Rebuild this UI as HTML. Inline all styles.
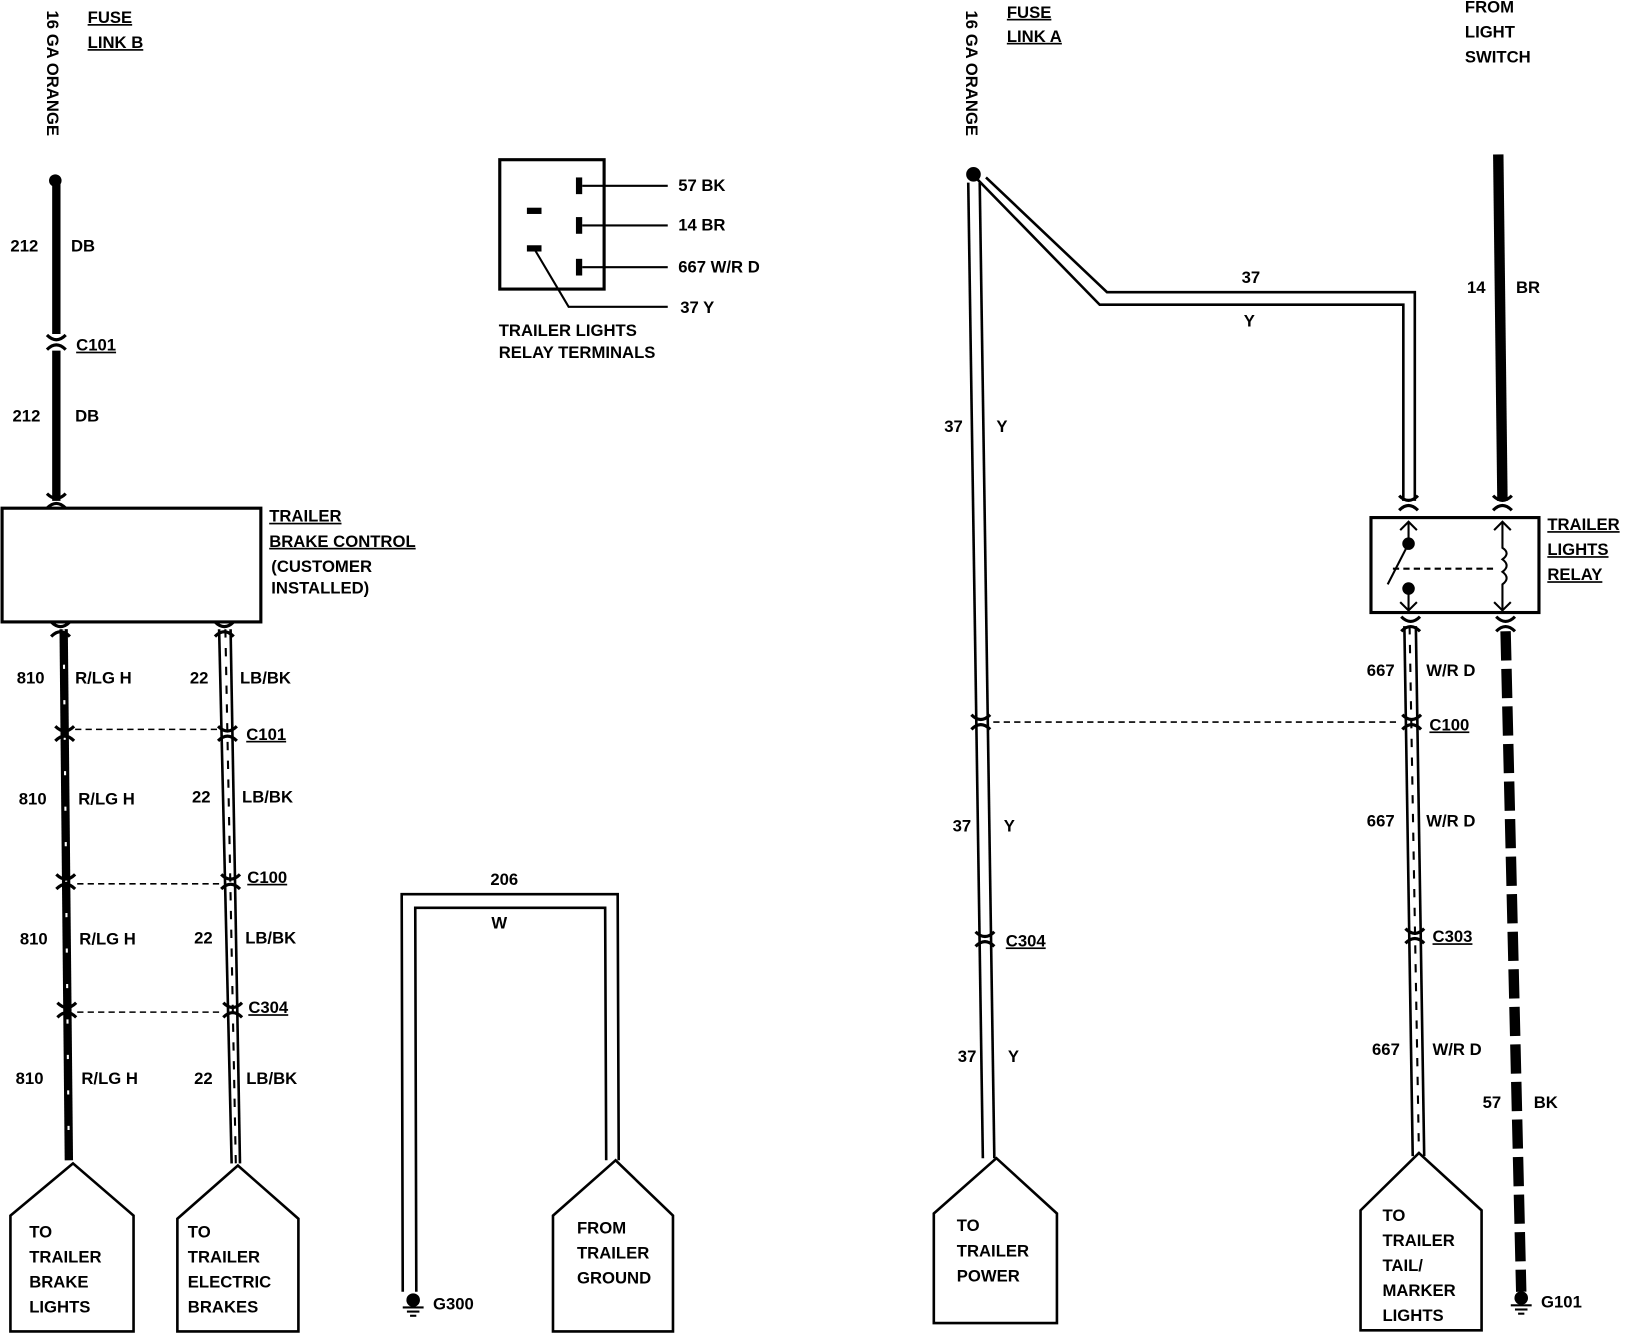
<!DOCTYPE html>
<html><head><meta charset="utf-8"><style>
html,body{margin:0;padding:0;background:#fff}
svg{display:block}
text{font-family:"Liberation Sans",sans-serif;font-weight:bold;font-size:16px;fill:#000}
</style></head><body>
<svg width="1636" height="1344" viewBox="0 0 1568 1288" xmlns="http://www.w3.org/2000/svg">
<defs>
<g id="conn"><path d="M-9,-7 Q0,2 9,-7" fill="none" stroke="#000" stroke-width="3"/><path d="M-9,7 Q0,-2 9,7" fill="none" stroke="#000" stroke-width="3"/></g>
<g id="gnd"><circle cx="0" cy="0" r="6" fill="#000"/><line x1="-10" y1="7" x2="10" y2="7" stroke="#000" stroke-width="2"/><line x1="-6" y1="11" x2="6" y2="11" stroke="#000" stroke-width="2"/><line x1="-3" y1="15" x2="3" y2="15" stroke="#000" stroke-width="2"/></g>
</defs>
<g stroke="#000" fill="none">
<!-- left fuse B wire -->
<circle cx="53" cy="173" r="6" fill="#000" stroke="none"/>
<line x1="54" y1="173" x2="54" y2="320" stroke-width="8"/>
<line x1="54" y1="336" x2="54" y2="480" stroke-width="8"/>
<use href="#conn" x="54" y="328"/>
<use href="#conn" x="54" y="480"/>
<rect x="2" y="487" width="248" height="109" stroke-width="3"/>
<!-- 810 wire -->
<line x1="61" y1="603" x2="66" y2="1112" stroke-width="8"/>
<line x1="61" y1="603" x2="66" y2="1112" stroke="#fff" stroke-width="2" stroke-dasharray="4 30"/>
<!-- 22 wire -->
<line x1="210" y1="603" x2="222" y2="1115" stroke-width="2.5"/>
<line x1="221" y1="603" x2="230" y2="1115" stroke-width="2.5"/>
<line x1="216" y1="603" x2="226" y2="1115" stroke-width="2" stroke-dasharray="8 10"/>
<use href="#conn" x="58" y="603"/><use href="#conn" x="215" y="603"/>
<use href="#conn" x="62" y="703"/><use href="#conn" x="218" y="703"/>
<use href="#conn" x="63" y="845"/><use href="#conn" x="221" y="845"/>
<use href="#conn" x="64" y="968"/><use href="#conn" x="223" y="968"/>
<g stroke-width="1.5" stroke-dasharray="6 4"><line x1="72" y1="699" x2="208" y2="699"/><line x1="74" y1="847" x2="210" y2="847"/><line x1="74" y1="970" x2="212" y2="970"/></g>
<path d="M70,1115 L10,1165 L10,1276 L128,1276 L128,1165 Z" stroke-width="2.5" fill="#fff"/>
<path d="M228,1117 L170,1168 L170,1276 L286,1276 L286,1168 Z" stroke-width="2.5" fill="#fff"/>
<!-- 206 loop -->
<path d="M386,1238 L385,857 L592,857 L593,1112" stroke-width="2.5"/>
<path d="M399,1238 L398,870 L580,870 L581,1112" stroke-width="2.5"/>
<use href="#gnd" x="396" y="1246"/>
<path d="M590,1112 L530,1165 L530,1276 L645,1276 L645,1165 Z" stroke-width="2.5" fill="#fff"/>
<!-- relay terminals box -->
<rect x="479" y="153" width="100" height="124" stroke-width="3"/>
<rect x="505" y="199" width="14" height="6" fill="#000" stroke="none"/>
<rect x="505" y="235" width="14" height="6" fill="#000" stroke="none"/>
<rect x="552" y="170" width="6" height="16" fill="#000" stroke="none"/>
<rect x="552" y="208" width="6" height="16" fill="#000" stroke="none"/>
<rect x="552" y="248" width="6" height="16" fill="#000" stroke="none"/>
<g stroke-width="2"><line x1="558" y1="178" x2="640" y2="178"/><line x1="558" y1="216" x2="640" y2="216"/><line x1="558" y1="256" x2="640" y2="256"/><path d="M513,240 L545,294 L640,294"/></g>
<!-- right 37 wires -->
<circle cx="933" cy="167" r="7" fill="#000" stroke="none"/>
<line x1="928" y1="175" x2="942" y2="1110" stroke-width="2.5"/>
<line x1="939" y1="175" x2="953" y2="1110" stroke-width="2.5"/>
<path d="M935,170 L1054,292 L1345,292 L1345,480" stroke-width="2.5"/>
<path d="M945,170 L1061,280 L1356,280 L1356,480" stroke-width="2.5"/>
<use href="#conn" x="1350" y="482"/><use href="#conn" x="1440" y="482"/>
<use href="#conn" x="940" y="692"/><use href="#conn" x="944" y="900"/>
<line x1="952" y1="692" x2="1342" y2="692" stroke-width="1.5" stroke-dasharray="6 4"/>
<path d="M955,1110 L895,1163 L895,1268 L1013,1268 L1013,1163 Z" stroke-width="2.5" fill="#fff"/>
<!-- 14 BR -->
<line x1="1436" y1="148" x2="1440" y2="480" stroke-width="10"/>
<!-- relay -->
<rect x="1314" y="496" width="161" height="91" stroke-width="3"/>
<g stroke-width="2">
<path d="M1350,500 L1350,520 M1342,508 L1350,500 L1358,508"/>
<circle cx="1350" cy="521" r="5" fill="#000"/>
<line x1="1350" y1="521" x2="1330" y2="560"/>
<line x1="1335" y1="545" x2="1432" y2="545" stroke-dasharray="6 4"/>
<circle cx="1350" cy="564" r="5" fill="#000"/>
<path d="M1350,564 L1350,585 M1342,577 L1350,585 L1358,577"/>
<path d="M1440,500 L1440,525 Q1448,530 1440,536 Q1448,542 1440,548 Q1448,554 1440,560 L1440,585 M1432,508 L1440,500 L1448,508 M1432,577 L1440,585 L1448,577"/>
</g>
<!-- 667 -->
<use href="#conn" x="1352" y="598"/><use href="#conn" x="1443" y="598"/>
<line x1="1346" y1="600" x2="1354" y2="1108" stroke-width="2.5"/>
<line x1="1357" y1="600" x2="1365" y2="1108" stroke-width="2.5"/>
<line x1="1351" y1="600" x2="1360" y2="1108" stroke-width="2" stroke-dasharray="8 10"/>
<use href="#conn" x="1353" y="692"/><use href="#conn" x="1356" y="897"/>
<path d="M1360,1105 L1304,1160 L1304,1275 L1420,1275 L1420,1160 Z" stroke-width="2.5" fill="#fff"/>
<!-- 57 BK -->
<line x1="1443" y1="605" x2="1458" y2="1238" stroke-width="10" stroke-dasharray="28 8"/>
<use href="#gnd" x="1458" y="1244"/>
</g>
<!-- texts -->
<text transform="translate(45,10) rotate(90)" font-size="15">16 GA ORANGE</text>
<text transform="translate(926,10) rotate(90)" font-size="15">16 GA ORANGE</text>
<g text-decoration="underline">
<text x="84" y="22">FUSE</text><text x="84" y="46">LINK B</text>
<text x="965" y="17">FUSE</text><text x="965" y="40">LINK A</text>
<text x="73" y="336">C101</text>
<text x="258" y="500">TRAILER</text><text x="258" y="524">BRAKE CONTROL</text>
<text x="236" y="709">C101</text><text x="237" y="846">C100</text><text x="238" y="971">C304</text>
<text x="964" y="907">C304</text><text x="1370" y="700">C100</text><text x="1373" y="903">C303</text>
<text x="1483" y="508">TRAILER</text><text x="1483" y="532">LIGHTS</text><text x="1483" y="556">RELAY</text>
</g>
<text x="10" y="241">212</text><text x="68" y="241">DB</text>
<text x="12" y="404">212</text><text x="72" y="404">DB</text>
<text x="260" y="548" font-size="14">(CUSTOMER</text><text x="260" y="569" font-size="14">INSTALLED)</text>
<text x="16" y="655">810</text><text x="72" y="655">R/LG H</text><text x="182" y="655">22</text><text x="230" y="655">LB/BK</text>
<text x="18" y="771">810</text><text x="75" y="771">R/LG H</text><text x="184" y="769">22</text><text x="232" y="769">LB/BK</text>
<text x="19" y="905">810</text><text x="76" y="905">R/LG H</text><text x="186" y="904">22</text><text x="235" y="904">LB/BK</text>
<text x="15" y="1039">810</text><text x="78" y="1039">R/LG H</text><text x="186" y="1039">22</text><text x="236" y="1039">LB/BK</text>
<text x="28" y="1186">TO</text><text x="28" y="1210">TRAILER</text><text x="28" y="1234">BRAKE</text><text x="28" y="1258">LIGHTS</text>
<text x="180" y="1186">TO</text><text x="180" y="1210">TRAILER</text><text x="180" y="1234">ELECTRIC</text><text x="180" y="1258">BRAKES</text>
<text x="470" y="848">206</text><text x="471" y="890">W</text>
<text x="415" y="1255">G300</text>
<text x="553" y="1182">FROM</text><text x="553" y="1206">TRAILER</text><text x="553" y="1230">GROUND</text>
<text x="650" y="183" font-size="14">57 BK</text><text x="650" y="221" font-size="14">14 BR</text><text x="650" y="261" font-size="14">667 W/R D</text><text x="652" y="300" font-size="14">37 Y</text>
<text x="478" y="322" font-size="14">TRAILER LIGHTS</text><text x="478" y="343" font-size="14">RELAY TERMINALS</text>
<text x="1404" y="12">FROM</text><text x="1404" y="36">LIGHT</text><text x="1404" y="60">SWITCH</text>
<text x="1190" y="271">37</text><text x="1192" y="313">Y</text>
<text x="905" y="414">37</text><text x="955" y="414">Y</text>
<text x="1406" y="281">14</text><text x="1453" y="281">BR</text>
<text x="1310" y="648">667</text><text x="1367" y="648">W/R D</text>
<text x="913" y="797">37</text><text x="962" y="797">Y</text>
<text x="1310" y="792">667</text><text x="1367" y="792">W/R D</text>
<text x="918" y="1018">37</text><text x="966" y="1018">Y</text>
<text x="1315" y="1011">667</text><text x="1373" y="1011">W/R D</text>
<text x="1421" y="1062">57</text><text x="1470" y="1062">BK</text>
<text x="917" y="1180">TO</text><text x="917" y="1204">TRAILER</text><text x="917" y="1228">POWER</text>
<text x="1325" y="1170">TO</text><text x="1325" y="1194">TRAILER</text><text x="1325" y="1218">TAIL/</text><text x="1325" y="1242">MARKER</text><text x="1325" y="1266">LIGHTS</text>
<text x="1477" y="1253">G101</text>
</svg>
</body></html>
